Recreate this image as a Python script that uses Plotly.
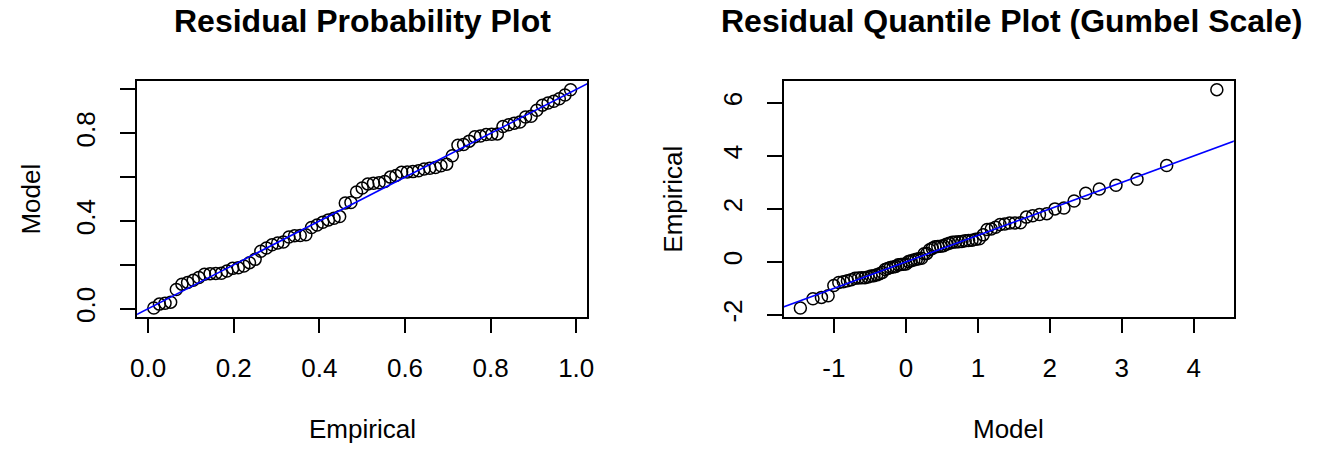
import plotly.graph_objects as go

# ---------------- data ----------------
empirical_prob = [0.0132, 0.0263, 0.0395, 0.0526, 0.0658, 0.0789, 0.0921, 0.1053, 0.1184, 0.1316,
                  0.1447, 0.1579, 0.1711, 0.1842, 0.1974, 0.2105, 0.2237, 0.2368, 0.2500, 0.2632,
                  0.2763, 0.2895, 0.3026, 0.3158, 0.3289, 0.3421, 0.3553, 0.3684, 0.3816, 0.3947,
                  0.4079, 0.4211, 0.4342, 0.4474, 0.4605, 0.4737, 0.4868, 0.5000, 0.5132, 0.5263,
                  0.5395, 0.5526, 0.5658, 0.5789, 0.5921, 0.6053, 0.6184, 0.6316, 0.6447, 0.6579,
                  0.6711, 0.6842, 0.6974, 0.7105, 0.7237, 0.7368, 0.7500, 0.7632, 0.7763, 0.7895,
                  0.8026, 0.8158, 0.8289, 0.8421, 0.8553, 0.8684, 0.8816, 0.8947, 0.9079, 0.9211,
                  0.9342, 0.9474, 0.9605, 0.9737, 0.9868]

model_prob = [0.0033, 0.021, 0.025, 0.030, 0.088, 0.112, 0.120, 0.130, 0.142, 0.157,
              0.160, 0.161, 0.162, 0.172, 0.184, 0.187, 0.195, 0.210, 0.225, 0.262,
              0.277, 0.292, 0.300, 0.304, 0.327, 0.333, 0.334, 0.337, 0.370, 0.382,
              0.394, 0.405, 0.412, 0.420, 0.482, 0.484, 0.532, 0.550, 0.569, 0.572,
              0.574, 0.580, 0.600, 0.607, 0.622, 0.623, 0.625, 0.629, 0.637, 0.640,
              0.644, 0.652, 0.659, 0.697, 0.745, 0.749, 0.764, 0.784, 0.787, 0.794,
              0.795, 0.797, 0.831, 0.839, 0.846, 0.851, 0.874, 0.877, 0.905, 0.928,
              0.938, 0.946, 0.957, 0.974, 0.9985]

model_quantile = [-1.466, -1.291, -1.173, -1.080, -1.001, -0.932, -0.869, -0.812, -0.758, -0.707,
                  -0.659, -0.613, -0.569, -0.526, -0.484, -0.444, -0.404, -0.365, -0.327, -0.289,
                  -0.252, -0.215, -0.178, -0.142, -0.106, -0.070, -0.034, 0.001, 0.037, 0.073,
                  0.109, 0.145, 0.181, 0.218, 0.254, 0.291, 0.329, 0.367, 0.405, 0.443,
                  0.483, 0.522, 0.563, 0.604, 0.646, 0.689, 0.733, 0.778, 0.824, 0.871,
                  0.919, 0.969, 1.021, 1.074, 1.129, 1.186, 1.246, 1.308, 1.374, 1.442,
                  1.515, 1.592, 1.673, 1.761, 1.856, 1.958, 2.071, 2.196, 2.337, 2.499,
                  2.687, 2.919, 3.211, 3.623, 4.320]

empirical_resid = [-1.74, -1.39, -1.34, -1.28, -0.89, -0.78, -0.75, -0.71, -0.67, -0.62,
                   -0.61, -0.60, -0.60, -0.57, -0.53, -0.52, -0.49, -0.45, -0.40, -0.29,
                   -0.25, -0.21, -0.19, -0.17, -0.11, -0.10, -0.09, -0.08, 0.01, 0.04,
                   0.07, 0.10, 0.12, 0.14, 0.31, 0.32, 0.46, 0.51, 0.57, 0.58,
                   0.59, 0.61, 0.67, 0.70, 0.74, 0.75, 0.76, 0.77, 0.80, 0.81,
                   0.82, 0.85, 0.87, 1.02, 1.22, 1.24, 1.31, 1.41, 1.43, 1.47,
                   1.47, 1.48, 1.69, 1.74, 1.79, 1.82, 2.00, 2.03, 2.30, 2.59,
                   2.75, 2.89, 3.12, 3.64, 6.50]

# reference lines (slope 1, intercept 0), clipped by the axes
ref1_x = [-1.0, 2.0]
ref2_x = [-5.0, 10.0]

left_xticks = [0.0, 0.2, 0.4, 0.6, 0.8, 1.0]
left_xlabels = ["0.0", "0.2", "0.4", "0.6", "0.8", "1.0"]
left_yticks = [0.0, 0.2, 0.4, 0.6, 0.8, 1.0]
left_ylabels = ["0.0", "", "0.4", "", "0.8", ""]
right_xticks = [-1, 0, 1, 2, 3, 4]
right_xlabels = ["-1", "0", "1", "2", "3", "4"]
right_yticks = [-2, 0, 2, 4, 6]
right_ylabels = ["-2", "0", "2", "4", "6"]

titles = ["Residual Probability Plot", "Residual Quantile Plot (Gumbel Scale)"]

# ---------------- figure ----------------
W, H = 1318, 452
FONT = "Liberation Sans, Arial, Helvetica, sans-serif"
BASE = 26
TITLE = 32

L1, R1 = 131.5, 586.5
L2, R2 = 785.0, 1240.0
TOP, BOT = 82.0, 321.0

def px(x):
    return x / W

def py(y):
    return 1 - y / H

marker = dict(symbol="circle-open", size=12, color="black", line=dict(width=1.5, color="black"))
blue_line = dict(color="#0000FF", width=1.6)

fig = go.Figure()
fig.add_trace(go.Scatter(x=empirical_prob, y=model_prob, mode="markers", marker=marker,
                         xaxis="x", yaxis="y", showlegend=False, cliponaxis=False))
fig.add_trace(go.Scatter(x=ref1_x, y=ref1_x, mode="lines", line=blue_line,
                         xaxis="x", yaxis="y", showlegend=False))
fig.add_trace(go.Scatter(x=model_quantile, y=empirical_resid, mode="markers", marker=marker,
                         xaxis="x2", yaxis="y2", showlegend=False, cliponaxis=False))
fig.add_trace(go.Scatter(x=ref2_x, y=ref2_x, mode="lines", line=blue_line,
                         xaxis="x2", yaxis="y2", showlegend=False))

axis_common = dict(showgrid=False, zeroline=False, showline=True, mirror=True,
                   linecolor="black", linewidth=1.5, ticks="outside", ticklen=15,
                   tickwidth=1.5, tickcolor="black",
                   tickfont=dict(family=FONT, size=BASE, color="black"))

fig.update_layout(
    width=W, height=H,
    margin=dict(l=0, r=0, t=0, b=0),
    paper_bgcolor="white", plot_bgcolor="white",
    xaxis=dict(domain=[px(L1), px(R1)], anchor="y", range=[-0.0258, 1.0258],
               tickvals=left_xticks, ticktext=left_xlabels, ticklabelstandoff=12, **axis_common),
    yaxis=dict(domain=[py(BOT), py(TOP)], anchor="x", range=[-0.0365, 1.0385],
               tickvals=left_yticks, ticktext=left_ylabels, tickangle=-90,
               ticklabelstandoff=15, **axis_common),
    xaxis2=dict(domain=[px(L2), px(R2)], anchor="y2", range=[-1.698, 4.556],
                tickvals=right_xticks, ticktext=right_xlabels, ticklabelstandoff=12, **axis_common),
    yaxis2=dict(domain=[py(BOT), py(TOP)], anchor="x2", range=[-2.07, 6.83],
                tickvals=right_yticks, ticktext=right_ylabels, tickangle=-90,
                ticklabelstandoff=15, **axis_common),
)

ann_font = dict(family=FONT, size=BASE, color="black")
anns = [
    dict(text="<b>%s</b>" % titles[0], x=px((L1 + R1) / 2), y=py(21),
         font=dict(family=FONT, size=TITLE, color="black")),
    dict(text="<b>%s</b>" % titles[1], x=px((L2 + R2) / 2 + 3), y=py(21),
         font=dict(family=FONT, size=TITLE, color="black")),
    dict(text="Empirical", x=px((L1 + R1) / 2), y=py(435), font=ann_font),
    dict(text="Model", x=px(24), y=py((TOP + BOT) / 2), textangle=-90, font=ann_font),
    dict(text="Model", x=px((L2 + R2) / 2), y=py(435), font=ann_font),
    dict(text="Empirical", x=px(L2 - 112), y=py((TOP + BOT) / 2), textangle=-90, font=ann_font),
]
for a in anns:
    a.update(xref="paper", yref="paper", showarrow=False, xanchor="center", yanchor="middle")
fig.update_layout(annotations=anns)

fig.write_html("out.html")
